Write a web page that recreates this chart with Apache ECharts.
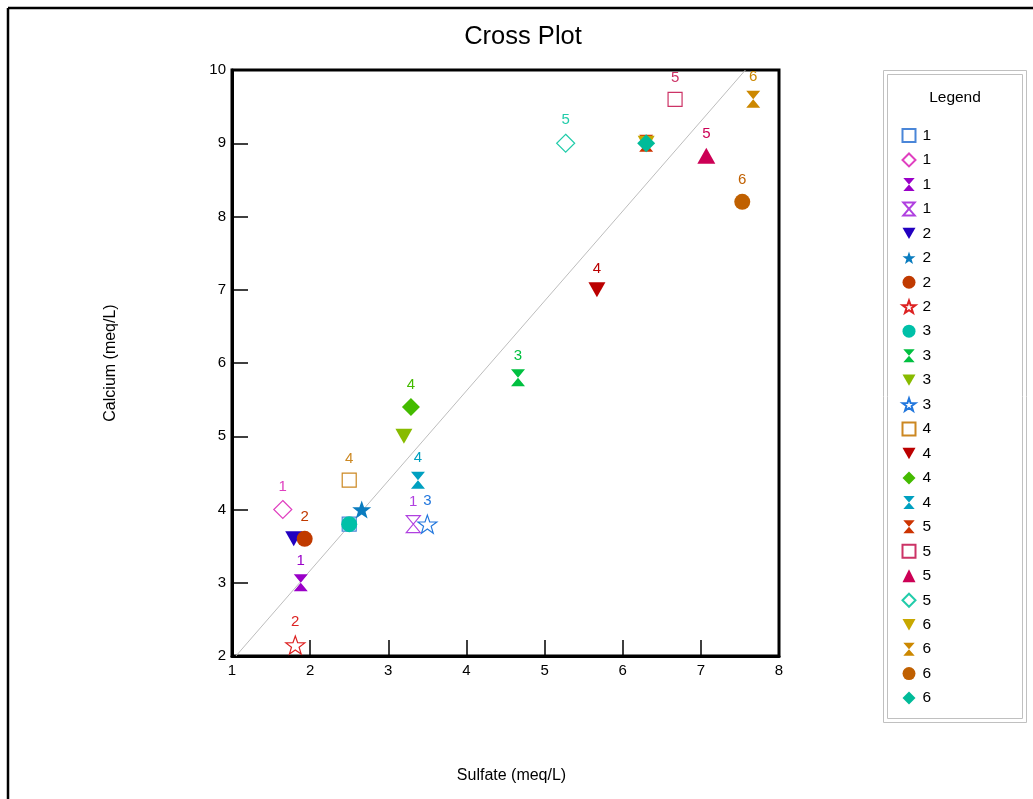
<!DOCTYPE html>
<html>
<head>
<meta charset="utf-8">
<script src="https://cdn.jsdelivr.net/npm/echarts@6/dist/echarts.min.js"></script>
<style>html,body{margin:0;padding:0;background:#fff;}#c{width:1033px;height:799px;}</style>
</head>
<body>
<div id="c"></div>
<script>
// ---- data ----
const seriesLabels = ['1','1','1','1','2','2','2','2','3','3','3','3','4','4','4','4','5','5','5','5','6','6','6','6'];
const seriesShapes = ['square','diamond','hourglass','hourglass','triDown','star','circle','star','circle','hourglass','triDown','star','square','triDown','diamond','hourglass','hourglass','square','triUp','diamond','triDown','hourglass','circle','diamond'];
const seriesFilled = [false,false,true,false,true,true,true,false,true,true,true,false,false,true,true,true,true,false,true,false,true,true,true,true];
const seriesColors = ['#4a86d8','#e040c0','#9a00c8','#b040e0','#2200c0','#0a7cbf','#c03a00','#dd2222','#00c0a8','#00c040','#88bb00','#2277dd','#cc8822','#bb0000','#44bb00','#00a0c0','#cc3300','#cc3366','#cc0055','#22ccaa','#c8a800','#cc8800','#c06000','#00bb99'];
const sulfate = [2.5,1.65,1.88,3.32,1.79,2.66,1.93,1.81,2.5,4.66,3.2,3.5,2.5,5.67,3.29,3.38,6.3,6.67,7.07,5.27,6.3,7.67,7.53,6.3];
const calcium = [3.8,4.0,3.0,3.8,3.6,4.0,3.6,2.15,3.8,5.8,5.0,3.8,4.4,7.0,5.4,4.4,9.0,9.6,8.83,9.0,9.0,9.6,8.2,9.0];
const showLabel = [false,true,true,true,false,false,true,true,false,true,false,true,true,true,true,true,false,true,true,true,false,true,true,false];
const refLineX = [1.05, 7.57];
const refLineY = [2, 10];
const xTicks = [1,2,3,4,5,6,7,8];
const yTicks = [2,3,4,5,6,7,8,9,10];

const FONT = 'Liberation Sans, Arial, sans-serif';
const starPath = 'path://M10,0 L12.35,6.76 L19.51,6.91 L13.8,11.24 L15.88,18.09 L10,14 L4.12,18.09 L6.2,11.24 L0.49,6.91 L7.65,6.76 Z';
const hourPath = 'path://M0,0 L14,0 L7,8 Z M7,8 L14,16 L0,16 Z';
const triDownPath = 'path://M0,0 L16,0 L8,14 Z';
const shapeDef = {
  square: {symbol:'rect', size:[14,14]},
  diamond: {symbol:'diamond', size:[18,18]},
  hourglass: {symbol:hourPath, size:[14,17]},
  triDown: {symbol:triDownPath, size:[17,15]},
  triUp: {symbol:'triangle', size:[18,16]},
  star: {symbol:starPath, size:[19,19]},
  circle: {symbol:'circle', size:[16,16]}
};

const series = [];
const legendData = [];
seriesLabels.forEach((lab, i) => {
  const sd = shapeDef[seriesShapes[i]];
  const name = lab + '-' + i;
  legendData.push(name);
  const col = seriesColors[i];
  const filled = seriesFilled[i];
  series.push({
    type: 'scatter',
    name: name,
    symbol: sd.symbol,
    symbolSize: sd.size,
    symbolKeepAspect: seriesShapes[i] === 'star',
    itemStyle: filled ? {color: col, borderWidth: 0, opacity: 1}
                      : {color: '#ffffff', borderColor: col, borderWidth: 1.2, opacity: 1},
    label: {
      show: showLabel[i], position: 'top', distance: 6,
      formatter: lab, color: col, fontSize: 15, fontFamily: FONT
    },
    emphasis: {disabled: true},
    data: [[sulfate[i], calcium[i]]]
  });
});
series.unshift({
  type: 'line', name: 'ref', silent: true, symbol: 'none',
  lineStyle: {color: '#bdbdbd', width: 1}, z: 1,
  data: refLineX.map((x, k) => [x, refLineY[k]])
});

const chart = echarts.init(document.getElementById('c'), null, {renderer: 'canvas'});
chart.setOption({
  animation: false,
  backgroundColor: '#fff',
  grid: {left: 232, right: 254, top: 70, bottom: 143, show: true, borderColor: '#000', borderWidth: 3},
  xAxis: {
    type: 'value', min: xTicks[0], max: xTicks[xTicks.length-1], interval: 1,
    name: 'Sulfate (meq/L)', nameLocation: 'middle', nameGap: 112,
    nameTextStyle: {fontSize: 16, fontFamily: FONT, color: '#000', padding: [0,0,0,12]},
    axisLine: {show: true, onZero: false, lineStyle: {color: '#000', width: 3}},
    axisTick: {show: true, inside: true, length: 16, lineStyle: {color: '#000', width: 1.5}},
    axisLabel: {fontSize: 15, fontFamily: FONT, color: '#000', margin: 7, showMinLabel: true, showMaxLabel: true},
    splitLine: {show: false}
  },
  yAxis: {
    type: 'value', min: yTicks[0], max: yTicks[yTicks.length-1], interval: 1,
    name: 'Calcium (meq/L)', nameLocation: 'middle', nameGap: 113,
    nameTextStyle: {fontSize: 16, fontFamily: FONT, color: '#000'},
    axisLine: {show: true, onZero: false, lineStyle: {color: '#000', width: 3}},
    axisTick: {show: true, inside: true, length: 16, lineStyle: {color: '#000', width: 1.5}},
    axisLabel: {fontSize: 15, fontFamily: FONT, color: '#000', margin: 6, showMinLabel: true, showMaxLabel: true},
    splitLine: {show: false}
  },
  legend: {
    orient: 'vertical', left: 901.5, top: 127.5, padding: 0,
    itemWidth: 13, itemHeight: 13, itemGap: 8.46,
    data: legendData,
    formatter: n => n.split('-')[0],
    textStyle: {fontSize: 15.5, fontFamily: FONT, color: '#000', padding: [0,0,0,2]},
    selectedMode: false
  },
  graphic: [
    {type: 'line', shape: {x1: 8, y1: 8, x2: 1033, y2: 8}, style: {stroke: '#000', lineWidth: 2.5}},
    {type: 'line', shape: {x1: 8, y1: 8, x2: 8, y2: 799}, style: {stroke: '#000', lineWidth: 2.5}},
    {type: 'rect', shape: {x: 883.5, y: 70.5, width: 143, height: 652}, style: {fill: 'none', stroke: '#c0c0c0', lineWidth: 1}},
    {type: 'rect', shape: {x: 887.5, y: 74.5, width: 135, height: 644}, style: {fill: 'none', stroke: '#c0c0c0', lineWidth: 1}},
    {type: 'text', x: 955, y: 98, style: {text: 'Legend', fontSize: 15.5, fontFamily: FONT, fill: '#000', textAlign: 'center', textVerticalAlign: 'middle'}},
    {type: 'text', x: 523, y: 37, style: {text: 'Cross Plot', fontSize: 25.5, fontFamily: FONT, fill: '#000', textAlign: 'center', textVerticalAlign: 'middle'}}
  ],
  series: series
});
</script>
</body>
</html>
